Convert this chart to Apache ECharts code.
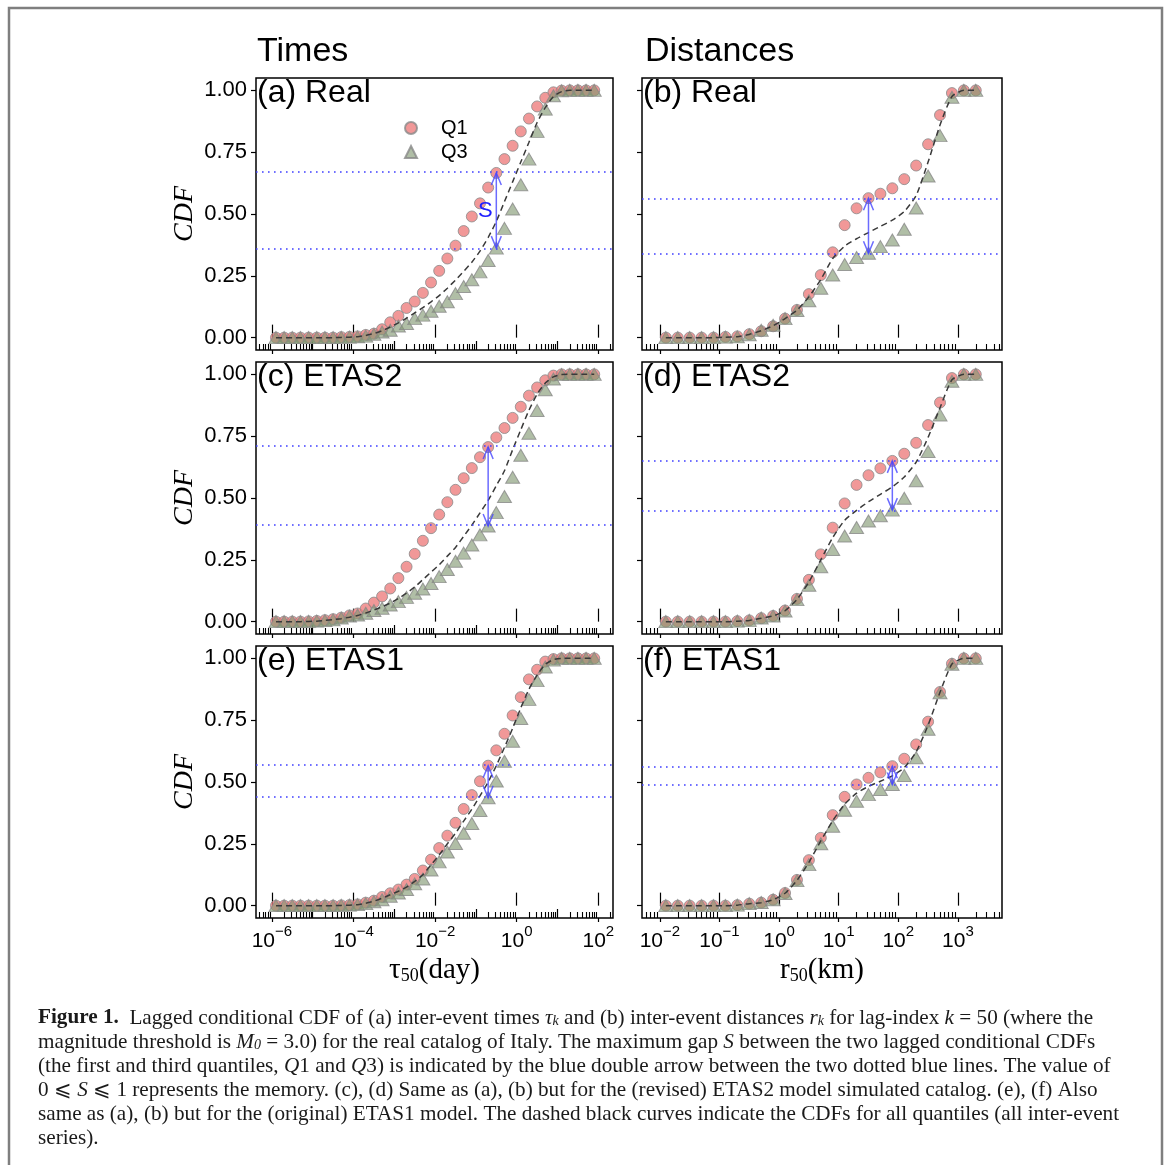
<!DOCTYPE html>
<html>
<head>
<meta charset="utf-8">
<title>Lagged conditional CDF</title>
<script src="https://cdn.jsdelivr.net/npm/echarts@6/dist/echarts.min.js"></script>
<style>
  html, body { margin: 0; padding: 0; background: #fff; }
  #main { width: 1167px; height: 1165px; }
</style>
</head>
<body>
<div id="main"></div>
<script>
// bin centres, log10 of the value
var timeExp = [-5.9, -5.7, -5.5, -5.3, -5.1, -4.9, -4.7, -4.5, -4.3, -4.1,
  -3.9, -3.7, -3.5, -3.3, -3.1, -2.9, -2.7, -2.5, -2.3, -2.1,
  -1.9, -1.7, -1.5, -1.3, -1.1, -0.9, -0.7, -0.5, -0.3, -0.1,
  0.1, 0.3, 0.5, 0.7, 0.9, 1.1, 1.3, 1.5, 1.7, 1.9]
var distExp = [-1.9, -1.7, -1.5, -1.3, -1.1, -0.9, -0.7, -0.5, -0.3, -0.1,
  0.1, 0.3, 0.5, 0.7, 0.9, 1.1, 1.3, 1.5, 1.7, 1.9,
  2.1, 2.3, 2.5, 2.7, 2.9, 3.1, 3.3]

// (a) Real, times
var aQ1 = [0, 0, 0, 0, 0, 0, 0, 0, 0.002, 0.003, 0.005, 0.011, 0.016, 0.034, 0.062, 0.088, 0.12, 0.146, 0.181, 0.223,
  0.27, 0.32, 0.372, 0.431, 0.49, 0.543, 0.607, 0.666, 0.722, 0.776, 0.834, 0.886, 0.935, 0.97, 0.992, 0.999, 1, 1, 1, 1]
var aQ3 = [0, 0, 0, 0, 0, 0, 0, 0, 0.001, 0.002, 0.003, 0.006, 0.014, 0.023, 0.03, 0.047, 0.057, 0.077, 0.091, 0.107,
  0.127, 0.145, 0.178, 0.207, 0.234, 0.266, 0.312, 0.362, 0.442, 0.52, 0.618, 0.722, 0.834, 0.924, 0.978, 0.998, 1, 1, 1, 1]
var aAll = [0, 0, 0, 0, 0, 0, 0, 0, 0.001, 0.002, 0.004, 0.009, 0.017, 0.028, 0.043, 0.06, 0.079, 0.1, 0.121, 0.145,
  0.17, 0.2, 0.233, 0.268, 0.305, 0.35, 0.405, 0.47, 0.55, 0.63, 0.71, 0.79, 0.87, 0.93, 0.975, 0.995, 1, 1, 1, 1]
// (c) ETAS2, times
var cQ1 = [0, 0, 0, 0, 0.001, 0.003, 0.006, 0.01, 0.016, 0.025, 0.033, 0.053, 0.077, 0.102, 0.134, 0.176, 0.222, 0.274, 0.327, 0.378,
  0.433, 0.483, 0.533, 0.58, 0.621, 0.665, 0.706, 0.745, 0.783, 0.824, 0.869, 0.914, 0.947, 0.976, 0.995, 1, 1, 1, 1, 1]
var cQ3 = [0, 0, 0, 0, 0.001, 0.002, 0.004, 0.007, 0.015, 0.023, 0.027, 0.034, 0.045, 0.054, 0.067, 0.081, 0.098, 0.115, 0.132, 0.154,
  0.182, 0.211, 0.244, 0.277, 0.31, 0.351, 0.387, 0.441, 0.506, 0.584, 0.673, 0.762, 0.854, 0.938, 0.981, 0.999, 1, 1, 1, 1]
var cAll = [0, 0, 0, 0, 0.001, 0.002, 0.005, 0.008, 0.012, 0.018, 0.025, 0.035, 0.047, 0.06, 0.075, 0.094, 0.115, 0.14, 0.17, 0.2,
  0.23, 0.265, 0.3, 0.345, 0.39, 0.44, 0.49, 0.55, 0.61, 0.695, 0.776, 0.855, 0.92, 0.965, 0.99, 0.999, 1, 1, 1, 1]
// (e) ETAS1, times
var eQ1 = [0, 0, 0, 0, 0, 0, 0, 0, 0.001, 0.002, 0.005, 0.012, 0.02, 0.035, 0.05, 0.065, 0.085, 0.108, 0.142, 0.186,
  0.233, 0.283, 0.335, 0.391, 0.447, 0.503, 0.566, 0.628, 0.695, 0.769, 0.843, 0.915, 0.954, 0.987, 0.997, 1, 1, 1, 1, 1]
var eQ3 = [0, 0, 0, 0, 0, 0, 0, 0, 0.001, 0.002, 0.004, 0.008, 0.016, 0.024, 0.038, 0.051, 0.065, 0.088, 0.108, 0.144,
  0.177, 0.217, 0.251, 0.293, 0.332, 0.385, 0.436, 0.504, 0.584, 0.665, 0.757, 0.834, 0.91, 0.965, 0.993, 1, 1, 1, 1, 1]
var eAll = [0, 0, 0, 0, 0, 0, 0, 0, 0.001, 0.002, 0.004, 0.01, 0.018, 0.03, 0.044, 0.058, 0.075, 0.098, 0.125, 0.165,
  0.205, 0.25, 0.293, 0.342, 0.39, 0.444, 0.5, 0.566, 0.64, 0.717, 0.8, 0.875, 0.932, 0.976, 0.995, 1, 1, 1, 1, 1]

// (b) Real, distances
var bQ1 = [0, 0, 0, 0, 0, 0.003, 0.005, 0.014, 0.026, 0.046, 0.077, 0.112, 0.176, 0.253, 0.345, 0.455, 0.523, 0.564, 0.582, 0.604,
  0.641, 0.696, 0.782, 0.9, 0.989, 1, 1]
var bQ3 = [0, 0, 0, 0, 0, 0.002, 0.003, 0.012, 0.03, 0.05, 0.077, 0.11, 0.149, 0.2, 0.253, 0.296, 0.324, 0.341, 0.368, 0.395,
  0.438, 0.524, 0.654, 0.817, 0.972, 1, 1]
var bAll = [0, 0, 0, 0, 0, 0.002, 0.004, 0.013, 0.028, 0.048, 0.077, 0.111, 0.165, 0.235, 0.32, 0.37, 0.4, 0.425, 0.45, 0.475,
  0.51, 0.575, 0.71, 0.86, 0.975, 1, 1]
// (d) ETAS2, distances
var dQ1 = [0, 0, 0, 0, 0, 0, 0.002, 0.005, 0.014, 0.023, 0.045, 0.092, 0.169, 0.272, 0.38, 0.478, 0.553, 0.592, 0.62, 0.65,
  0.679, 0.723, 0.795, 0.886, 0.985, 1, 1]
var dQ3 = [0, 0, 0, 0, 0, 0, 0.002, 0.005, 0.015, 0.023, 0.043, 0.089, 0.147, 0.222, 0.292, 0.346, 0.381, 0.407, 0.428, 0.451,
  0.499, 0.57, 0.688, 0.836, 0.972, 1, 1]
var dAll = [0, 0, 0, 0, 0, 0, 0.002, 0.005, 0.014, 0.023, 0.044, 0.09, 0.16, 0.25, 0.34, 0.41, 0.45, 0.485, 0.515, 0.545,
  0.585, 0.645, 0.745, 0.865, 0.978, 1, 1]
// (f) ETAS1, distances
var fQ1 = [0, 0, 0, 0, 0, 0, 0.002, 0.008, 0.012, 0.024, 0.051, 0.104, 0.184, 0.274, 0.366, 0.44, 0.49, 0.517, 0.539, 0.564,
  0.594, 0.652, 0.744, 0.864, 0.978, 1, 1]
var fQ3 = [0, 0, 0, 0, 0, 0, 0.002, 0.008, 0.013, 0.024, 0.049, 0.101, 0.166, 0.25, 0.321, 0.386, 0.422, 0.449, 0.47, 0.49,
  0.526, 0.598, 0.713, 0.861, 0.976, 1, 1]
var fAll = [0, 0, 0, 0, 0, 0, 0.002, 0.008, 0.012, 0.024, 0.05, 0.102, 0.175, 0.262, 0.343, 0.41, 0.455, 0.482, 0.503, 0.525,
  0.558, 0.622, 0.73, 0.863, 0.977, 1, 1]

// maximum gap S: [log10 x, Q1 value, Q3 value]
var gapA = [-0.5, 0.666, 0.362]
var gapB = [1.5, 0.564, 0.341]
var gapC = [-0.7, 0.706, 0.387]
var gapD = [1.9, 0.65, 0.451]
var gapE = [-0.7, 0.566, 0.436]
var gapF = [1.9, 0.564, 0.49]

// ticks
var timeLabelExp = [-6, -4, -2, 0, 2]
var timeMidExp = [-5, -3, -1, 1]
var distLabelExp = [-2, -1, 0, 1, 2, 3]
var yTicks = [0, 0.25, 0.5, 0.75, 1]

var SANS = 'Liberation Sans, Arial, sans-serif'
var SERIF = 'Liberation Serif, DejaVu Serif, serif'
var arrowColor = 'rgba(70,70,255,0.8)'
var dotColor = '#4040ff'

var panels = [
  { label: '(a) Real', kind: 'time', q1: aQ1, q3: aQ3, all: aAll, gap: gapA, row: 0, col: 0, s: true },
  { label: '(b) Real', kind: 'dist', q1: bQ1, q3: bQ3, all: bAll, gap: gapB, row: 0, col: 1 },
  { label: '(c) ETAS2', kind: 'time', q1: cQ1, q3: cQ3, all: cAll, gap: gapC, row: 1, col: 0 },
  { label: '(d) ETAS2', kind: 'dist', q1: dQ1, q3: dQ3, all: dAll, gap: gapD, row: 1, col: 1 },
  { label: '(e) ETAS1', kind: 'time', q1: eQ1, q3: eQ3, all: eAll, gap: gapE, row: 2, col: 0 },
  { label: '(f) ETAS1', kind: 'dist', q1: fQ1, q3: fQ3, all: fAll, gap: gapF, row: 2, col: 1 },
]

var gridLeft = [256, 642]
var gridWidth = [357, 360]
var gridTop = [78, 362, 646]
var gridHeight = 272

var ranges = {
  time: { min: Math.pow(10, -6.39), max: Math.pow(10, 2.36), lo: -7, hi: 2, xs: timeExp, labels: timeLabelExp, mids: timeMidExp },
  dist: { min: Math.pow(10, -2.3), max: Math.pow(10, 3.74), lo: -3, hi: 3, xs: distExp, labels: distLabelExp, mids: [] },
}

function pow10 (list) {
  return list.map(function (e) { return Math.pow(10, e) })
}

function pairs (xs, ys) {
  return xs.map(function (e, i) { return [Math.pow(10, e), ys[i]] })
}

function minorTicks (r) {
  var out = []
  for (var n = r.lo; n <= r.hi; n++) {
    for (var k = 2; k <= 9; k++) {
      var v = k * Math.pow(10, n)
      if (v > r.min && v < r.max) out.push(v)
    }
  }
  return out
}

function supLabel (v) {
  var e = Math.round(Math.log10(v))
  return '{b|10}{s|' + (e < 0 ? '\u2212' + (-e) : e) + '}'
}

// double arrow with open heads, drawn through the axes
function arrowItem (params, api) {
  var top = api.coord([api.value(0), api.value(1)])
  var bot = api.coord([api.value(0), api.value(2)])
  var hw = 5
  var hl = 12
  var st = { stroke: arrowColor, lineWidth: 1.5, fill: null }
  var children = [
    { type: 'line', shape: { x1: top[0], y1: top[1], x2: bot[0], y2: bot[1] }, style: st },
    { type: 'polyline', shape: { points: [[top[0] - hw, top[1] + hl], top, [top[0] + hw, top[1] + hl]] }, style: st },
    { type: 'polyline', shape: { points: [[bot[0] - hw, bot[1] - hl], bot, [bot[0] + hw, bot[1] - hl]] }, style: st },
  ]
  if (params.seriesName === 'gapS') {
    children.push({
      type: 'text',
      style: {
        text: 'S', x: top[0] - 11, y: (top[1] + bot[1]) / 2, align: 'center', verticalAlign: 'middle',
        fill: '#2020ff', font: '22px ' + SANS,
      },
    })
  }
  return { type: 'group', children: children }
}

var grids = []
var xAxes = []
var yAxes = []
var series = []
var graphics = []

panels.forEach(function (p, i) {
  var r = ranges[p.kind]
  var bottomRow = p.row === 2
  grids.push({
    left: gridLeft[p.col], top: gridTop[p.row], width: gridWidth[p.col], height: gridHeight,
    show: true, borderColor: '#000', borderWidth: 1.5, backgroundColor: 'transparent',
    containLabel: false, outerBoundsMode: 'none',
  })
  var hidden = {
    type: 'log', gridIndex: i, min: r.min, max: r.max, position: 'bottom',
    axisLine: { show: false }, splitLine: { show: false }, axisLabel: { show: false },
  }
  var mainIndex = xAxes.length
  xAxes.push({
    type: 'log', gridIndex: i, min: r.min, max: r.max, position: 'bottom',
    axisLine: { show: false }, splitLine: { show: false },
    axisTick: { show: true, inside: true, length: 13, customValues: pow10(r.labels), lineStyle: { color: '#000', width: 1.2 } },
    axisLabel: {
      show: bottomRow, customValues: pow10(r.labels), formatter: supLabel, margin: 6, color: '#000',
      rich: {
        b: { fontSize: 21, fontFamily: SANS, color: '#000', lineHeight: 28, verticalAlign: 'bottom' },
        s: { fontSize: 15, fontFamily: SANS, color: '#000', verticalAlign: 'top' },
      },
    },
    name: bottomRow ? (p.kind === 'time' ? '{t|\u03c4}{sub|50}(day)' : 'r{sub|50}(km)') : '',
    nameLocation: 'middle', nameGap: 38,
    nameTextStyle: {
      fontFamily: SERIF, fontSize: 29, color: '#000',
      rich: {
        t: { fontFamily: SERIF, fontSize: 29, color: '#000' },
        sub: { fontFamily: SERIF, fontSize: 18, color: '#000', verticalAlign: 'bottom' },
      },
    },
  })
  xAxes.push(Object.assign({}, hidden, {
    axisTick: { show: true, inside: true, length: 6, customValues: minorTicks(r), lineStyle: { color: '#000', width: 1.1 } },
  }))
  if (r.mids.length) {
    xAxes.push(Object.assign({}, hidden, {
      axisTick: { show: true, inside: true, length: 9, customValues: pow10(r.mids), lineStyle: { color: '#000', width: 1.2 } },
    }))
  }
  xAxes.push(Object.assign({}, hidden, {
    axisTick: { show: true, inside: false, length: 4, customValues: pow10(r.labels), lineStyle: { color: '#000', width: 1.2 } },
  }))

  yAxes.push({
    type: 'value', gridIndex: i, min: -0.05, max: 1.05,
    axisLine: { show: false }, splitLine: { show: false },
    axisTick: { show: true, length: 5, customValues: yTicks, lineStyle: { color: '#000', width: 1.2 } },
    axisLabel: {
      show: p.col === 0, customValues: yTicks, margin: 9, fontSize: 22, fontFamily: SANS, color: '#000',
      formatter: function (v) { return v.toFixed(2) },
    },
    name: p.col === 0 ? 'CDF' : '', nameLocation: 'middle', nameRotate: 90, nameGap: 57,
    nameTextStyle: { fontFamily: SERIF, fontStyle: 'italic', fontSize: 28, color: '#000' },
  })

  series.push({
    type: 'scatter', name: 'Q1', xAxisIndex: mainIndex, yAxisIndex: i,
    symbol: 'circle', symbolSize: 11, z: 2,
    itemStyle: { color: 'rgba(236,120,120,0.95)', borderColor: '#8a8a8a', borderWidth: 1 },
    data: pairs(r.xs, p.q1),
  })
  series.push({
    type: 'scatter', name: 'Q3', xAxisIndex: mainIndex, yAxisIndex: i,
    symbol: 'triangle', symbolSize: [14, 12], z: 3,
    itemStyle: { color: 'rgba(128,150,112,0.78)', borderColor: '#888', borderWidth: 1 },
    data: pairs(r.xs, p.q3),
  })
  series.push({
    type: 'line', name: 'all', xAxisIndex: mainIndex, yAxisIndex: i,
    showSymbol: false, symbol: 'none', smooth: 0.2, z: 4,
    lineStyle: { color: '#3a3a3a', width: 1.5, type: [6, 4] },
    data: pairs(r.xs, p.all),
    markLine: {
      silent: true, symbol: 'none', animation: false, label: { show: false },
      lineStyle: { color: dotColor, width: 1.6, type: [1.6, 4.4] },
      data: [{ yAxis: p.gap[1] }, { yAxis: p.gap[2] }],
    },
  })
  series.push({
    type: 'custom', name: p.s ? 'gapS' : 'gap', xAxisIndex: mainIndex, yAxisIndex: i, z: 5,
    renderItem: arrowItem, encode: { x: 0, y: [1, 2] },
    data: [[Math.pow(10, p.gap[0]), p.gap[1], p.gap[2]]],
  })

  graphics.push({
    type: 'text', left: gridLeft[p.col] + 1, top: gridTop[p.row] - 1, z: 10,
    style: { text: p.label, font: '32px ' + SANS, fill: '#000' },
  })
})

graphics.push({ type: 'text', left: 257, top: 35, style: { text: 'Times', font: '34px ' + SANS, fill: '#000' } })
graphics.push({ type: 'text', left: 645, top: 35, style: { text: 'Distances', font: '34px ' + SANS, fill: '#000' } })

// outer frame
graphics.push({
  type: 'rect', z: 0, shape: { x: 9, y: 8, width: 1153, height: 1200 },
  style: { fill: 'none', stroke: '#7f7f7f', lineWidth: 2.5 },
})

// caption
var captionLines = [
  '{b|Figure 1.}  Lagged conditional CDF of (a) inter-event times {i|\u03c4}{sub|k} and (b) inter-event distances {i|r}{sub|k} for lag-index {i|k} = 50 (where the',
  'magnitude threshold is {i|M}{sub|0} = 3.0) for the real catalog of Italy. The maximum gap {i|S} between the two lagged conditional CDFs',
  '(the first and third quantiles, {i|Q}1 and {i|Q}3) is indicated by the blue double arrow between the two dotted blue lines. The value of',
  '0 \u2a7d {i|S} \u2a7d 1 represents the memory. (c), (d) Same as (a), (b) but for the (revised) ETAS2 model simulated catalog. (e), (f) Also',
  'same as (a), (b) but for the (original) ETAS1 model. The dashed black curves indicate the CDFs for all quantiles (all inter-event',
  'series).',
]
var capSize = 21.2
var capRich = {
  b: { fontFamily: SERIF, fontSize: capSize, fontWeight: 'bold', fill: '#1a1a1a' },
  i: { fontFamily: SERIF, fontSize: capSize, fontStyle: 'italic', fill: '#1a1a1a' },
  sub: { fontFamily: SERIF, fontSize: 14, fontStyle: 'italic', fill: '#1a1a1a', verticalAlign: 'bottom' },
}
captionLines.forEach(function (line, k) {
  graphics.push({
    type: 'text', x: 38, y: 1018 + k * 24,
    style: {
      text: line, fontFamily: SERIF, fontSize: capSize, fill: '#1a1a1a',
      verticalAlign: 'middle', rich: capRich,
    },
  })
})

var chart = echarts.init(document.getElementById('main'))
chart.setOption({
  animation: false,
  backgroundColor: '#fff',
  grid: grids,
  xAxis: xAxes,
  yAxis: yAxes,
  legend: {
    left: 399, top: 113, orient: 'vertical', itemGap: 4, itemWidth: 12, itemHeight: 12,
    selectedMode: false,
    data: [{ name: 'Q1', icon: 'circle' }, { name: 'Q3', icon: 'triangle' }],
    formatter: function (name) { return '{g| }' + name },
    textStyle: { fontSize: 20, fontFamily: SANS, color: '#000', rich: { g: { width: 19 } } },
  },
  series: series,
  graphic: graphics,
})
</script>
</body>
</html>
